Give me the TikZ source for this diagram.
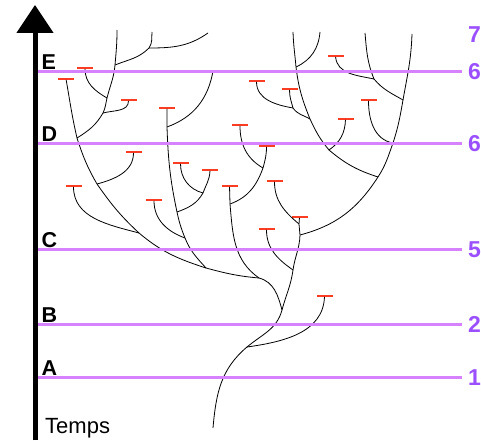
\documentclass[tikz,border=0pt]{standalone}
\usepackage{fontspec}
\setmainfont{Liberation Sans}
\usepackage{tikz}
\usetikzlibrary{positioning}
\usetikzlibrary{arrows.meta}
\definecolor{lignecol}{RGB}{214,130,255}
\definecolor{numcol}{RGB}{155,80,255}
\definecolor{tipcol}{RGB}{250,60,35}

\begin{document}
\begin{tikzpicture}
	[x=1pt,y=1pt,
	branch/.style={draw=black,line width=0.8pt},
	tip/.style={rectangle,fill=tipcol,minimum width=16pt,minimum height=1.3pt,inner sep=0pt},
	level/.style={draw=lignecol,line width=2.8pt},
	lettre/.style={font=\fontsize{21.5}{25}\selectfont\bfseries,inner sep=0pt},
	num/.style={font=\fontsize{23}{27}\selectfont\bfseries,text=numcol,inner sep=0pt},
	axe/.style={line width=5pt,-{Triangle[width=36pt,length=28pt]}}]
	\useasboundingbox (0,0) rectangle (481,440);
	\coordinate (root) at (213,12);
	\coordinate (n1) at (247,93);
	\coordinate (n2) at (282,130);
	\coordinate (n3) at (259,162);
	\coordinate (n4) at (293,170);
	\coordinate (n5) at (300,205);
	\coordinate (n6) at (299,216);
	\coordinate (n7) at (206,172);
	\coordinate (n8) at (139,207);
	\coordinate (n9) at (97,256);
	\coordinate (n10) at (77,302);
	\coordinate (n11) at (103,327);
	\coordinate (n12) at (107,342);
	\coordinate (n13) at (115,375);
	\coordinate (n14) at (149,392);
	\coordinate (n15) at (185,202);
	\coordinate (n16) at (177,228);
	\coordinate (n17) at (203,247);
	\coordinate (n18) at (167,313);
	\coordinate (n19) at (230,236);
	\coordinate (n20) at (263,272);
	\coordinate (n21) at (378,263);
	\coordinate (n22) at (393,297);
	\coordinate (n23) at (403,340);
	\coordinate (n24) at (374,361);
	\coordinate (n25) at (329,290);
	\coordinate (n26) at (310,321);
	\coordinate (n27) at (293,332);
	\coordinate (n28) at (296,373);
	\coordinate (e1) at (117,410);
	\coordinate (e2) at (152,408);
	\coordinate (e3) at (208,407);
	\coordinate (e4) at (213,369);
	\coordinate (e5) at (293,408);
	\coordinate (e6) at (320,408);
	\coordinate (e7) at (365,407);
	\coordinate (e8) at (412,406);
	\node [tip] (t1) at (66,361) {};
	\node [tip] (t2) at (85,372) {};
	\node [tip] (t3) at (128.5,340) {};
	\node [tip] (t4) at (133.5,288) {};
	\node [tip] (t5) at (73.5,254) {};
	\node [tip] (t6) at (154,240) {};
	\node [tip] (t7) at (180.5,277) {};
	\node [tip] (t8) at (210,270) {};
	\node [tip] (t9) at (167,332) {};
	\node [tip] (t10) at (229.5,254) {};
	\node [tip] (t11) at (240,315) {};
	\node [tip] (t12) at (266.5,294) {};
	\node [tip] (t13) at (266.5,211) {};
	\node [tip] (t14) at (274.5,259) {};
	\node [tip] (t15) at (299.5,223) {};
	\node [tip] (t16) at (324.5,144) {};
	\node [tip] (t17) at (345.5,321) {};
	\node [tip] (t18) at (289.5,351) {};
	\node [tip] (t19) at (256.5,359) {};
	\node [tip] (t20) at (368.5,340) {};
	\node [tip] (t21) at (335.5,384) {};
	\draw[branch] (root) to [out=85,in=-140] (n1) to [out=40,in=-105] (n2) to [out=75,in=-98] (n4) to [out=82,in=-92] (n5) -- (n6) -- (t15);
	\draw[branch] (n1) to [out=8,in=-92] (t16);
	\draw[branch] (n4) to [out=145,in=-90] (t13);
	\draw[branch] (n6) to [out=140,in=-90] (t14);
	\draw[branch] (n5) to [out=15,in=-123] (n21) to [out=57,in=-110] (n22) to [out=72,in=-100] (n23) to [out=80,in=-92] (e8);
	\draw[branch] (n21) to [out=162,in=-40] (n25) to [out=130,in=-65] (n26) to [out=112,in=-83] (n28) to [out=95,in=-88] (e5);
	\draw[branch] (n25) to [out=35,in=-92] (t17);
	\draw[branch] (n26) to [out=150,in=-55] (n27) to [out=105,in=-90] (t18);
	\draw[branch] (n27) to [out=170,in=-90] (t19);
	\draw[branch] (n28) to [out=25,in=-95] (e6);
	\draw[branch] (n22) to [out=170,in=-90] (t20);
	\draw[branch] (n23) to [out=150,in=-50] (n24) to [out=112,in=-85] (e7);
	\draw[branch] (n24) to [out=168,in=-85] (t21);
	\draw[branch] (n2) to [out=105,in=-15] (n3) to [out=175,in=-15] (n7) to [out=162,in=-40] (n8) to [out=137,in=-55] (n9) to [out=120,in=-72] (n10) to [out=103,in=-80] (t1);
	\draw[branch] (n3) to [out=145,in=-85] (n19) -- (t10);
	\draw[branch] (n19) to [out=20,in=-110] (n20) to [out=75,in=-90] (t12);
	\draw[branch] (n20) to [out=150,in=-90] (t11);
	\draw[branch] (n7) to [out=132,in=-68] (n15) to [out=112,in=-78] (n16) to [out=102,in=-88] (n18) -- (t9);
	\draw[branch] (n15) to [out=160,in=-90] (t6);
	\draw[branch] (n16) to [out=20,in=-120] (n17) to [out=70,in=-92] (t8);
	\draw[branch] (n17) to [out=165,in=-90] (t7);
	\draw[branch] (n18) to [out=20,in=-100] (e4);
	\draw[branch] (n8) to [out=165,in=-90] (t5);
	\draw[branch] (n9) to [out=15,in=-90] (t4);
	\draw[branch] (n10) to [out=32,in=-120] (n11) to [out=65,in=-103] (n12) to [out=76,in=-95] (n13) to [out=85,in=-90] (e1);
	\draw[branch] (n11) to [out=15,in=-90] (t3);
	\draw[branch] (n12) to [out=150,in=-90] (t2);
	\draw[branch] (n13) to [out=22,in=-135] (n14) to [out=55,in=-95] (e2);
	\draw[branch] (n14) to [out=0,in=-145] (e3);
	\coordinate (lE0) at (38,368.5);
	\coordinate (lE1) at (462,368.5);
	\coordinate (lD0) at (38,296.5);
	\coordinate (lD1) at (462,296.5);
	\coordinate (lC0) at (38,190.5);
	\coordinate (lC1) at (462,190.5);
	\coordinate (lB0) at (38,115.5);
	\coordinate (lB1) at (462,115.5);
	\coordinate (lA0) at (38,62.5);
	\coordinate (lA1) at (462,62.5);
	\draw[level] (lE0) -- (lE1);
	\draw[level] (lD0) -- (lD1);
	\draw[level] (lC0) -- (lC1);
	\draw[level] (lB0) -- (lB1);
	\draw[level] (lA0) -- (lA1);
	\node [lettre] (E) [above right=1.5pt and 3.5pt of lE0] {E};
	\node [lettre] (D) [above right=1.5pt and 3.5pt of lD0] {D};
	\node [lettre] (C) [above right=1.5pt and 3.5pt of lC0] {C};
	\node [lettre] (B) [above right=1.5pt and 3.5pt of lB0] {B};
	\node [lettre] (A) [above right=1.5pt and 3.5pt of lA0] {A};
	\node [num] (numE) [right=6pt of lE1] {6};
	\node [num] (numD) [right=6pt of lD1] {6};
	\node [num] (numC) [right=6pt of lC1] {5};
	\node [num] (numB) [right=6pt of lB1] {2};
	\node [num] (numA) [right=6pt of lA1] {1};
	\node [num] (num7) [above=20.5pt of numE] {7};
	\coordinate (a0) at (35,0);
	\coordinate (a1) at (35,435);
	\draw[axe] (a0) -- (a1);
	\node [font=\fontsize{22}{26}\selectfont,inner sep=0pt,anchor=base west] (temps) at (45,7) {Temps};
\end{tikzpicture}
\end{document}
